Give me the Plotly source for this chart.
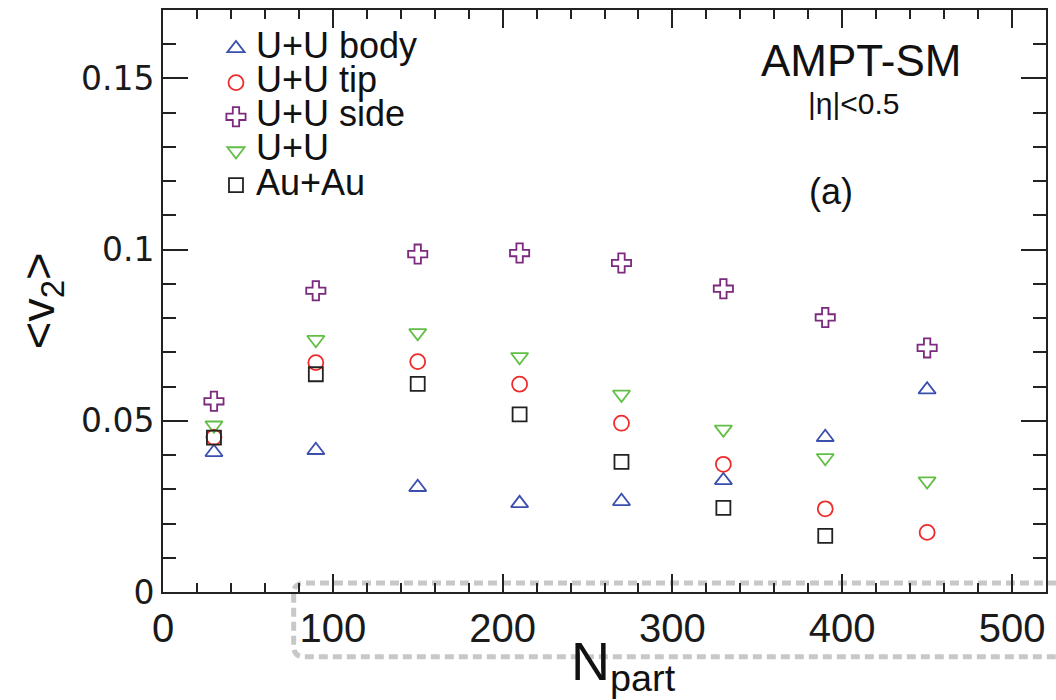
import plotly.graph_objects as go

# Number of participants (centrality bins)
npart = [30, 90, 150, 210, 270, 330, 390, 450]

# Elliptic flow <v2> per system / orientation
v2_uu_body = [0.0408, 0.0414, 0.0306, 0.0259, 0.0265, 0.0326, 0.0452, 0.0591]
v2_uu_tip = [0.0452, 0.0670, 0.0673, 0.0607, 0.0493, 0.0373, 0.0243, 0.0174]
v2_uu_side = [0.0557, 0.0880, 0.0987, 0.0990, 0.0961, 0.0886, 0.0802, 0.0713]
v2_uu_all = [0.0487, 0.0737, 0.0757, 0.0687, 0.0577, 0.0475, 0.0392, 0.0324]
npart_auau = [30, 90, 150, 210, 270, 330, 390]
v2_auau = [0.0451, 0.0636, 0.0608, 0.0519, 0.0380, 0.0246, 0.0164]

series = [
    ("U+U body", npart, v2_uu_body, "triangle-up-open", "#3a4fae", 15),
    ("U+U tip", npart, v2_uu_tip, "circle-open", "#ee2a2a", 15),
    ("U+U side", npart, v2_uu_side, "cross-open", "#7b2a7e", 16),
    ("U+U", npart, v2_uu_all, "triangle-down-open", "#62bf45", 15),
    ("Au+Au", npart_auau, v2_auau, "square-open", "#222222", 14),
]

FONT = "Liberation Sans, Arial, sans-serif"
NARROW = "Liberation Sans Narrow, Liberation Sans, Arial, sans-serif"

fig = go.Figure()
for name, xs, ys, sym, col, sz in series:
    fig.add_trace(go.Scatter(
        x=xs, y=ys, mode="markers",
        name=f'<span style="font-size:36px">{name}</span>',
        marker=dict(symbol=sym, size=sz, color=col, line=dict(color=col, width=1.8)),
    ))

axis_common = dict(
    showgrid=False, zeroline=False, showline=True, linecolor="#222222", linewidth=2,
    mirror="allticks", ticks="inside", tickcolor="#222222", tickwidth=2,
)

fig.update_xaxes(
    range=[0, 520], tickvals=[0, 100, 200, 300, 400, 500], ticklen=18,
    minor=dict(dtick=20, tick0=0, ticks="inside", ticklen=9, tickcolor="#222222", tickwidth=1.5),
    tickfont=dict(family=NARROW, size=40, color="#1a1a1a"),
    **axis_common,
)
fig.update_yaxes(
    range=[0, 0.17], tickvals=[0, 0.05, 0.1, 0.15], ticktext=["0", "0.05", "0.1", "0.15"],
    ticklen=25,
    minor=dict(dtick=0.01, tick0=0, ticks="inside", ticklen=13, tickcolor="#222222", tickwidth=1.5),
    tickfont=dict(family="DejaVu Sans, sans-serif", size=33, color="#1a1a1a"),
    **axis_common,
)

# Axis titles
fig.add_annotation(
    text="&lt;v<sub>2</sub>&gt;", xref="paper", yref="paper",
    x=-0.138, y=0.50, xanchor="center", yanchor="middle", textangle=-90, showarrow=False,
    font=dict(family=FONT, size=47, color="#111111"),
)
fig.add_annotation(
    text="N<sub>part</sub>", xref="paper", yref="paper",
    x=0.522, y=-0.126, xanchor="center", yanchor="middle", showarrow=False,
    font=dict(family=NARROW, size=54, color="#111111"),
)

# Model / cut labels
fig.add_annotation(text="AMPT-SM", xref="paper", yref="paper", x=0.790, y=0.914,
                   xanchor="center", yanchor="middle",
                   showarrow=False, font=dict(family=FONT, size=44, color="#111111"))
fig.add_annotation(text="|η|<0.5", xref="paper", yref="paper", x=0.782, y=0.840,
                   xanchor="center", yanchor="middle",
                   showarrow=False, font=dict(family=NARROW, size=30, color="#111111"))
fig.add_annotation(text="(a)", xref="paper", yref="paper", x=0.757, y=0.688,
                   xanchor="center", yanchor="middle",
                   showarrow=False, font=dict(family=FONT, size=36, color="#111111"))

# Dashed rounded frame around the lower axis region
x0, x1 = 0.148, 1.06
ytop, ybot = 0.0154, -0.1113
rx, ry = 0.012, 0.018
path = (f"M {x1},{ytop} L {x0 + rx},{ytop} Q {x0},{ytop} {x0},{ytop - ry} "
        f"L {x0},{ybot + ry} Q {x0},{ybot} {x0 + rx},{ybot} L {x1},{ybot}")
fig.add_shape(type="path", path=path, xref="paper", yref="paper", layer="below",
              line=dict(color="#c8c8c8", width=5, dash="9px,5px"))

fig.update_layout(
    width=1056, height=700,
    margin=dict(l=163, r=8, t=8, b=108),
    paper_bgcolor="white", plot_bgcolor="white",
    showlegend=True,
    legend=dict(
        x=0.060, y=0.972, xanchor="left", yanchor="top",
        bgcolor="rgba(0,0,0,0)", borderwidth=0,
        font=dict(family=FONT, size=24, color="#111111"),
        tracegroupgap=0,
    ),
)

fig.write_html("out.html")
